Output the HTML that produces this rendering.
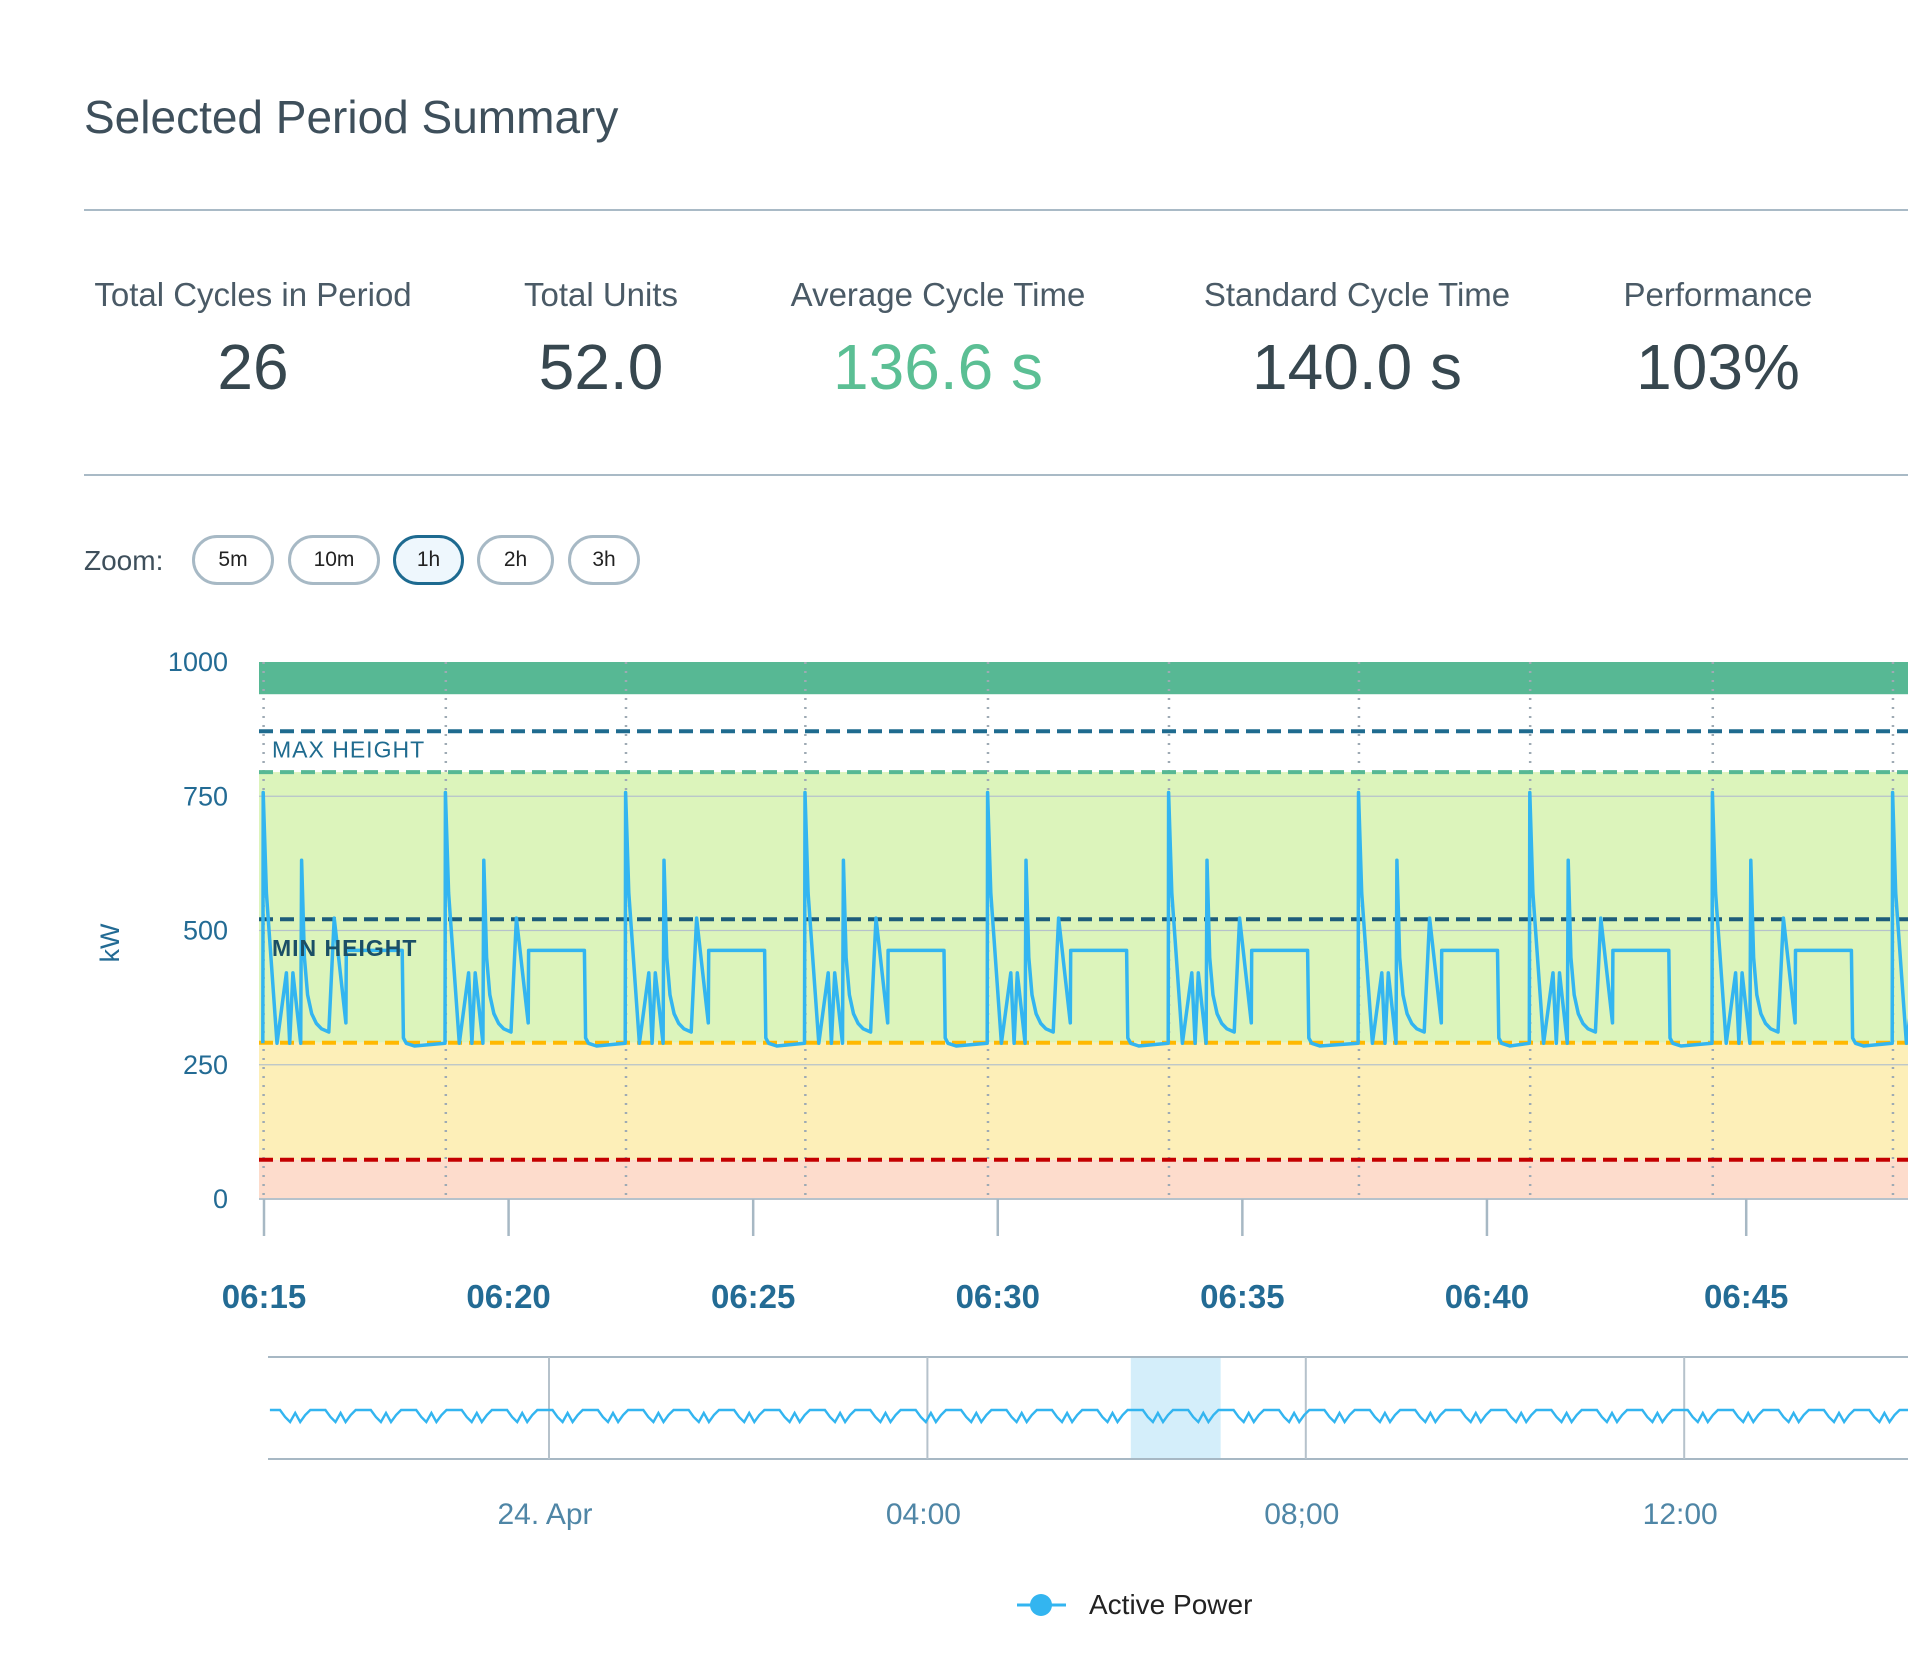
<!DOCTYPE html>
<html><head><meta charset="utf-8">
<style>
html,body{margin:0;padding:0;background:#fff;}
body{width:1908px;height:1668px;overflow:hidden;position:relative;font-family:"Liberation Sans",sans-serif;}
.abs{position:absolute;}
.title{left:84px;top:90px;font-size:46px;color:#3e4f5b;}
.hr{left:84px;right:0;height:2px;background:#a9bac6;}
.stat{position:absolute;text-align:center;width:440px;}
.stat .lab{font-size:33px;color:#4a5a66;}
.stat .val{font-size:64px;color:#37474f;margin-top:16px;}
.zoomlab{left:84px;top:545px;font-size:28px;color:#3e4f5b;}
.btn{position:absolute;top:535px;height:44px;border:3px solid #a7b9c5;border-radius:26px;background:#fff;font-size:21px;color:#222;display:flex;align-items:center;justify-content:center;box-sizing:content-box;}
.btn.active{border-color:#1d6a90;background:#eef7fd;}
</style></head>
<body>
<div class="abs title">Selected Period Summary</div>
<div class="abs hr" style="top:209px"></div>

<div class="stat" style="left:33px;top:276px"><div class="lab">Total Cycles in Period</div><div class="val">26</div></div>
<div class="stat" style="left:381px;top:276px"><div class="lab">Total Units</div><div class="val">52.0</div></div>
<div class="stat" style="left:718px;top:276px"><div class="lab">Average Cycle Time</div><div class="val" style="color:#5bbf94">136.6 s</div></div>
<div class="stat" style="left:1137px;top:276px"><div class="lab">Standard Cycle Time</div><div class="val">140.0 s</div></div>
<div class="stat" style="left:1498px;top:276px"><div class="lab">Performance</div><div class="val">103%</div></div>

<div class="abs hr" style="top:474px"></div>

<div class="abs zoomlab">Zoom:</div>
<div class="btn" style="left:192px;width:76px">5m</div>
<div class="btn" style="left:288px;width:86px">10m</div>
<div class="btn active" style="left:393px;width:65px">1h</div>
<div class="btn" style="left:477px;width:71px">2h</div>
<div class="btn" style="left:568px;width:66px">3h</div>

<svg id="chart" class="abs" style="left:0;top:0" width="1908" height="1668" xmlns="http://www.w3.org/2000/svg"></svg>

<script>
// ---- data ----
const yTicks = [0, 250, 500, 750, 1000];
const xTickSeconds = [0, 300, 600, 900, 1200, 1500, 1818];
const xTickLabels = ["06:15", "06:20", "06:25", "06:30", "06:35", "06:40", "06:45"];
const cycleStarts = [-1.5, 222, 443, 663, 887, 1109, 1342, 1552, 1776, 1997];
const shapeOffsets = [0, 0.5, 4.4, 17.5, 29, 33, 37, 46.5, 47.6, 51, 55, 60, 65.7, 72, 81, 87.6, 102, 102.5, 171, 172.5, 176, 186];
const shapeValues = [290, 757, 570, 290, 421, 290, 421, 290, 631, 450, 380, 345, 327, 317, 311, 523, 328, 463, 463, 300, 290, 285];
const bandTop = 940;
const maxHeight = 871;
const greenLimit = 795;
const minHeight = 521;
const yellowLimit = 291;
const redLimit = 73;
const navTickHours = [0, 4, 8, 12];
const navTickLabels = ["24. Apr", "04:00", "08;00", "12:00"];
const navPattern = [490, 490, 490, 420, 370, 460, 370, 440, 490];
const navSelection = [6.15, 7.1];

// ---- scales ----
const PL = 259, PR = 1908, PT = 662, PB = 1199;
function y(v){ return PB - v * (PB - PT) / 1000; }
function x(t){ return 264 + t * 0.8153; }
function nx(h){ return 549 + h * 94.6; }
function ny(v){ return 1459 - v * 0.1; }

const svg = document.getElementById('chart');
const NS = 'http://www.w3.org/2000/svg';
function mk(tag, attrs, parent){
  const e = document.createElementNS(NS, tag);
  for (const k in attrs) e.setAttribute(k, attrs[k]);
  (parent || svg).appendChild(e);
  return e;
}
const clip = mk('clipPath', {id:'plotclip'});
mk('rect', {x:PL, y:PT-5, width:PR-PL, height:PB-PT+10}, clip);

let e;
e = mk('rect', {x:PL, y:y(1000), width:PR-PL, height:y(bandTop)-y(1000), fill:'#57b894'});


e = mk('rect', {x:PL, y:y(greenLimit), width:PR-PL, height:y(yellowLimit)-y(greenLimit), fill:'#dcf4bb'});


e = mk('rect', {x:PL, y:y(yellowLimit), width:PR-PL, height:y(redLimit)-y(yellowLimit), fill:'#fdefb8'});


e = mk('rect', {x:PL, y:y(redLimit), width:PR-PL, height:y(0)-y(redLimit), fill:'#fddccc'});



yTicks.forEach(v => {
  if (v > 0 && v < 1000) {
    const g = mk('line', {x1:PL, x2:PR, y1:y(v), y2:y(v), stroke:'#b6c2cb', 'stroke-width':1.2});
    
    
  }
  const t = mk('text', {x:228, y:y(v)+9, 'text-anchor':'end', 'font-size':27, fill:'#236b94'});
  t.textContent = v;
  
  
});
e = mk('line', {x1:PL, x2:PR, y1:PB, y2:PB, stroke:'#b6c2cb', 'stroke-width':2});



cycleStarts.forEach(c => {
  const l = mk('line', {x1:x(c+1), x2:x(c+1), y1:PT, y2:PB, stroke:'#9eaab4', 'stroke-width':2.5, 'stroke-dasharray':'2 7'});
  
  
});

[[maxHeight,'#1f6b8f','max-height-line'],[greenLimit,'#57b894','upper-limit-line'],[minHeight,'#1d5c7a','min-height-line'],[yellowLimit,'#ffb800','warning-limit-line'],[redLimit,'#c40000','critical-limit-line']].forEach(d => {
  const l = mk('line', {x1:PL, x2:PR, y1:y(d[0]), y2:y(d[0]), stroke:d[1], 'stroke-width':4, 'stroke-dasharray':'14 7'});
  
  
});
e = mk('text', {x:272, y:y(maxHeight)+26, 'font-size':23, fill:'#1f6b8f', 'letter-spacing':'1'});
e.textContent = 'MAX HEIGHT';



let pts = [];
cycleStarts.forEach(c => {
  shapeOffsets.forEach((o, i) => { pts.push([x(c+o), y(shapeValues[i])]); });
});
const line = mk('polyline', {points: pts.map(p => p[0].toFixed(1)+','+p[1].toFixed(1)).join(' '), fill:'none', stroke:'#33b5f0', 'stroke-width':3.5, 'stroke-linejoin':'round', 'clip-path':'url(#plotclip)'});



e = mk('text', {x:272, y:y(minHeight)+37, 'font-size':23, 'font-weight':'bold', fill:'#1b4f66', 'letter-spacing':'1'});
e.textContent = 'MIN HEIGHT';



e = mk('text', {x:0, y:0, 'font-size':27, fill:'#236b94', 'text-anchor':'middle', transform:'translate(119,943) rotate(-90)'});
e.textContent = 'kW';



xTickSeconds.forEach((s, i) => {
  const tk = mk('line', {x1:x(s), x2:x(s), y1:PB, y2:PB+37, stroke:'#a7b8c4', 'stroke-width':2.5});
  
  
  const t = mk('text', {x:x(s), y:1308, 'text-anchor':'middle', 'font-size':33, 'font-weight':'bold', fill:'#236b94'});
  t.textContent = xTickLabels[i];
  
  
});

const NT = 1357, NB = 1459, NL = 268;
e = mk('rect', {x:nx(navSelection[0]), y:NT, width:nx(navSelection[1])-nx(navSelection[0]), height:NB-NT, fill:'#d4eefa'});


e = mk('line', {x1:NL, x2:1908, y1:NT, y2:NT, stroke:'#a7b8c4', 'stroke-width':2});


e = mk('line', {x1:NL, x2:1908, y1:NB, y2:NB, stroke:'#a7b8c4', 'stroke-width':2});


navTickHours.forEach((h, i) => {
  const g = mk('line', {x1:nx(h), x2:nx(h), y1:NT, y2:NB, stroke:'#b6c2cb', 'stroke-width':2});
  
  
  const t = mk('text', {x:nx(h)-4, y:1524, 'text-anchor':'middle', 'font-size':30, fill:'#4f86a6'});
  t.textContent = navTickLabels[i];
  
  
});
let np = [];
const step = 0.48 / navPattern.length;
for (let h = -2.95, k = 0; h <= 14.4; h += step, k++) {
  np.push(nx(h).toFixed(1) + ',' + ny(navPattern[k % navPattern.length]).toFixed(1));
}
e = mk('polyline', {points: np.join(' '), fill:'none', stroke:'#33b5f0', 'stroke-width':2.4});



const lg = mk('g', {});


mk('line', {x1:1017, x2:1066, y1:1605, y2:1605, stroke:'#33b5f0', 'stroke-width':3}, lg);
mk('circle', {cx:1041, cy:1605, r:11, fill:'#33b5f0'}, lg);
const lt = mk('text', {x:1089, y:1614, 'font-size':28, fill:'#222'}, lg);
lt.textContent = 'Active Power';
</script>
</body></html>
